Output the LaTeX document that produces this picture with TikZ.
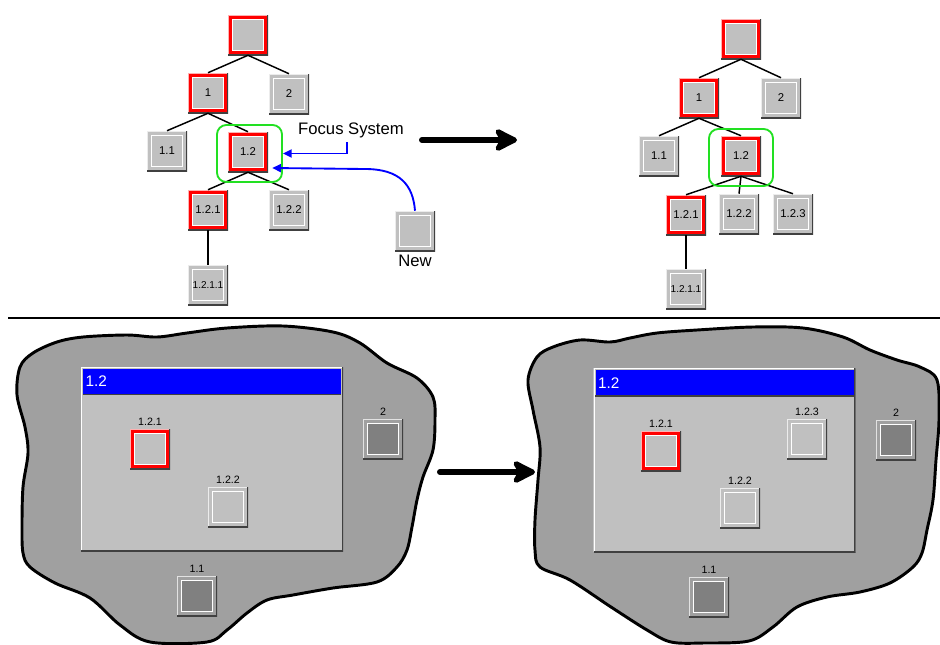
\documentclass[tikz,border=0pt]{standalone}
\usepackage{fontspec}
\setsansfont{Liberation Sans}
\usepackage{tikz}
\usetikzlibrary{arrows.meta, calc}

\definecolor{winface}{HTML}{C0C0C0}
\definecolor{blobgray}{HTML}{A0A0A0}
\definecolor{darkfill}{HTML}{808080}
\definecolor{edgedark}{HTML}{404040}
\definecolor{selred}{HTML}{FF0000}
\definecolor{focusgreen}{HTML}{22E022}
\definecolor{linkblue}{HTML}{0000FF}

% bevelled square: outer colour, inner colour
\newcommand{\boxdeco}[2]{%
  \fill[#1] (path picture bounding box.south west) rectangle (path picture bounding box.north east);
  \filldraw[draw=white, line width=0.9pt, fill=#2] ([shift={(3.6pt,3.6pt)}]path picture bounding box.south west) rectangle ([shift={(-3.6pt,-3.6pt)}]path picture bounding box.north east);
  \draw[white!70!#1, line width=1.4pt] (path picture bounding box.south west) |- (path picture bounding box.north east);
  \draw[edgedark, line width=1.6pt] (path picture bounding box.south west) -| (path picture bounding box.north east);
}
\newcommand{\winedge}{%
  \draw[white, line width=2pt] (path picture bounding box.south west) |- (path picture bounding box.north east);
  \draw[edgedark, line width=2pt] (path picture bounding box.south west) -| (path picture bounding box.north east);
}

\begin{document}
\begin{tikzpicture}[x=0.75pt, y=-0.75pt,
    tbox/.style={rectangle, minimum size=30pt, inner sep=0pt, font=\sffamily\fontsize{8.5}{9}\selectfont, path picture={\boxdeco{winface}{winface}}},
    selbox/.style={tbox, path picture={\boxdeco{selred}{winface}}},
    darkbox/.style={tbox, path picture={\boxdeco{blobgray}{darkfill}}},
    branch/.style={line width=1.1pt},
    focusring/.style={draw=focusgreen, line width=1.4pt, rounded corners=7pt, minimum width=48.75pt, minimum height=42.75pt, inner sep=0pt},
    link/.style={draw=linkblue, line width=1.4pt, -{Triangle[length=6.5pt,width=6pt]}},
    bigarrow/.style={line width=4.5pt, line cap=round, -{Stealth[length=21pt,width=21pt,inset=6pt,round]}},
    blob/.style={fill=blobgray, draw=black, line width=2.2pt},
    window/.style={fill=winface, minimum width=196.5pt, minimum height=138pt, inner sep=0pt, path picture={\winedge}},
    titlebar/.style={fill=linkblue, minimum width=193.5pt, minimum height=19pt, inner sep=0pt},
    titletxt/.style={font=\sffamily\fontsize{11.5}{13}\selectfont, text=white, inner sep=2pt},
    caption/.style={font=\sffamily\fontsize{8}{9}\selectfont, inner sep=1pt, label distance=1.5pt},
    bigtxt/.style={font=\sffamily\fontsize{12.5}{14}\selectfont}
  ]
  \useasboundingbox (0,0) rectangle (940,644);

  % Tree before
  \node[selbox] (lroot) at (248,35) {};
  \node[selbox] (l1) at (208,93) {1};
  \node[tbox] (l2) at (289,94) {2};
  \node[tbox] (l11) at (167,151) {1.1};
  \node[selbox] (l12) at (248,152) {1.2};
  \node[selbox] (l121) at (208,210) {1.2.1};
  \node[tbox] (l122) at (289,210) {1.2.2};
  \node[tbox, font=\sffamily\fontsize{7.5}{8}\selectfont] (l1211) at (208,285) {1.2.1.1};
  \foreach \p/\c in {lroot/l1, lroot/l2, l1/l11, l1/l12, l12/l121, l12/l122, l121/l1211}
    \draw[branch] (\p.south) -- (\c.north);
  \node[focusring] (lfocus) at (249.5,153.5) {};

  % Focus system and the new node
  \node[bigtxt] (fs) at (351,130) {Focus System};
  \node[tbox, label={[bigtxt, label distance=-1pt]below:New}] (new) at (415,231) {};
  \draw[link] ([xshift=-3pt]fs.south) |- (lfocus.east);
  \draw[link] (new.north) .. controls (413,185) and (400,169) .. (365,169) -- ($(l12.east)+(4,16)$);

  % Arrow
  \coordinate (ta) at (422,140);
  \coordinate (tb) at (517,140);
  \draw[bigarrow] (ta) -- (tb);

  % Tree after
  \node[selbox] (rroot) at (741,39) {};
  \node[selbox] (r1) at (699,98) {1};
  \node[tbox] (r2) at (781,98) {2};
  \node[tbox] (r11) at (659,156) {1.1};
  \node[selbox] (r12) at (741,156) {1.2};
  \node[selbox] (r121) at (686,215) {1.2.1};
  \node[tbox] (r122) at (739,214) {1.2.2};
  \node[tbox] (r123) at (793,214) {1.2.3};
  \node[tbox, font=\sffamily\fontsize{7.5}{8}\selectfont] (r1211) at (686,289) {1.2.1.1};
  \foreach \p/\c in {rroot/r1, rroot/r2, r1/r11, r1/r12, r12/r121, r12/r122, r12/r123, r121/r1211}
    \draw[branch] (\p.south) -- (\c.north);
  \node[focusring, minimum width=48pt] (rfocus) at (741,157.5) {};

  % Separator
  \draw[line width=1.5pt] (8,318) -- (940,318);

  % Desktop before
  \draw[blob] plot[smooth cycle, tension=0.55] coordinates {
    (20,367) (33,353) (57,342) (83,337) (127,335) (157,337) (187,333) (227,328)
    (283,326) (333,332) (360,343) (387,363) (417,378) (433,397) (435,420) (433,450)
    (423,477) (417,500) (412,527) (407,550) (397,567) (377,582) (333,588) (293,595)
    (267,600) (247,613) (227,630) (207,642) (150,642) (120,625) (90,598) (55,583)
    (30,567) (23,553) (22,527) (23,487) (28,453) (25,427) (17,395)};
  \node[window] (lwin) at (212,459) {};
  \node[titlebar] (ltitle) at (212,381.5) {};
  \draw[edgedark, line width=1pt] (ltitle.south west) -- (ltitle.south east);
  \node[titletxt, anchor=west] (ltxt) at (ltitle.west) {1.2};
  \node[selbox, label={[caption]above:1.2.1}] (lw121) at (150,449) {};
  \node[tbox, label={[caption]above:1.2.2}] (lw122) at (228,507) {};
  \node[darkbox, label={[caption]above:2}] (lw2) at (383,439) {};
  \node[darkbox, label={[caption]above:1.1}] (lw11) at (197,596) {};

  % Arrow
  \coordinate (ba) at (440,472);
  \coordinate (bb) at (535,472);
  \draw[bigarrow] (ba) -- (bb);

  % Desktop after
  \draw[blob] plot[smooth cycle, tension=0.55] coordinates {
    (528,380) (537,357) (553,347) (580,340) (610,342) (630,338) (657,333) (697,330)
    (753,327) (803,328) (843,337) (870,350) (897,360) (920,367) (937,380) (939,420)
    (936,460) (933,500) (927,530) (922,553) (913,567) (890,583) (860,592) (827,597)
    (797,607) (773,627) (749,641) (704,643) (671,642) (647,630) (611,607) (570,580)
    (540,567) (535,550) (535,520) (538,480) (540,447) (533,410)};
  \node[window] (rwin) at (724.5,460) {};
  \node[titlebar] (rtitle) at (724.5,383) {};
  \draw[edgedark, line width=1pt] (rtitle.south west) -- (rtitle.south east);
  \node[titletxt, anchor=west] (rtxt) at (rtitle.west) {1.2};
  \node[selbox, label={[caption]above:1.2.1}] (rw121) at (661,451) {};
  \node[tbox, label={[caption]above:1.2.2}] (rw122) at (740,508) {};
  \node[tbox, label={[caption]above:1.2.3}] (rw123) at (807,439) {};
  \node[darkbox, label={[caption]above:2}] (rw2) at (896,440) {};
  \node[darkbox, label={[caption]above:1.1}] (rw11) at (709,597) {};
\end{tikzpicture}
\end{document}
